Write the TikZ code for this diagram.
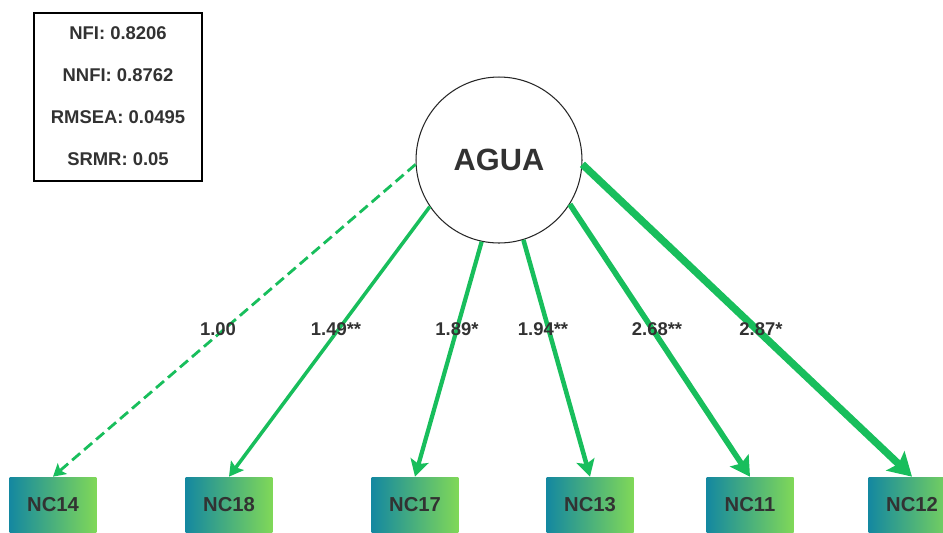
\documentclass[tikz,border=0pt]{standalone}
\usepackage{fontspec}
\setmainfont{Liberation Sans}
\usetikzlibrary{arrows.meta}
\usetikzlibrary{calc}

\definecolor{pathgreen}{RGB}{24,190,92}
\definecolor{boxteal}{RGB}{20,136,160}
\definecolor{boxlime}{RGB}{128,216,88}
\definecolor{labelgray}{RGB}{50,50,50}

\begin{document}
\begin{tikzpicture}[x=0.02cm, y=-0.02cm, >=Stealth,
    ncbox/.style={rectangle, minimum width=1.74cm, minimum height=1.12cm,
        left color=boxteal, right color=boxlime, text=labelgray,
        font=\bfseries\fontsize{11.5}{13}\selectfont},
    coef/.style={text=labelgray, font=\bfseries\fontsize{10.5}{12}\selectfont},
    link/.style={draw=pathgreen, line cap=butt}]
    % Marco de la figura
    \clip (0,0) rectangle (943,532);

    % Cuadro con los indices de ajuste
    \node[draw=black, line width=0.9pt, minimum width=3.36cm, minimum height=3.36cm] (fit) at (118,97) {};
    \foreach \txt [count=\i] in {NFI: 0.8206, NNFI: 0.8762, RMSEA: 0.0495, SRMR: 0.05}
        \node[coef] (fit\i) at (118,{33+42*(\i-1)}) {\txt};

    % Variable latente
    \node[circle, draw=black!85, line width=0.6pt, minimum size=3.32cm, text=labelgray,
        font=\bfseries\fontsize{17.5}{20}\selectfont] (agua) at (499,160) {AGUA};

    % Indicadores
    \node[ncbox] (nc14) at (53,505) {NC14};
    \node[ncbox] (nc18) at (229,505) {NC18};
    \node[ncbox] (nc17) at (415,505) {NC17};
    \node[ncbox] (nc13) at (590,505) {NC13};
    \node[ncbox] (nc11) at (750,505) {NC11};
    \node[ncbox] (nc12) at (912,505) {NC12};

    % Cargas factoriales
    \draw[link, line width=1.6pt, dash pattern=on 6pt off 3pt, -{Stealth[length=7pt, width=8pt, inset=1.5pt]}] (agua.183) -- (nc14.north);
    \draw[link, line width=2pt, -{Stealth[length=8pt, width=9pt, inset=1.5pt]}] (agua.214) -- (nc18.north);
    \draw[link, line width=2.4pt, -{Stealth[length=9.5pt, width=10.5pt, inset=2pt]}] (agua.258) -- (nc17.north);
    \draw[link, line width=2.6pt, -{Stealth[length=9.5pt, width=10.5pt, inset=2pt]}] (agua.287) -- (nc13.north);
    \draw[link, line width=3.2pt, -{Stealth[length=11pt, width=12.5pt, inset=2pt]}] (agua.328) -- (nc11.north);
    \draw[link, line width=4.2pt, -{Stealth[length=13pt, width=15pt, inset=2.5pt]}] (agua.357) -- (nc12.north);

    % Valores de las cargas
    \node[coef] (c14) at (218,329) {1.00};
    \node[coef] (c18) at (336,329) {1.49**};
    \node[coef] (c17) at (457,329) {1.89*};
    \node[coef] (c13) at (543,329) {1.94**};
    \node[coef] (c11) at (657,329) {2.68**};
    \node[coef] (c12) at (761,329) {2.87*};
\end{tikzpicture}
\end{document}
